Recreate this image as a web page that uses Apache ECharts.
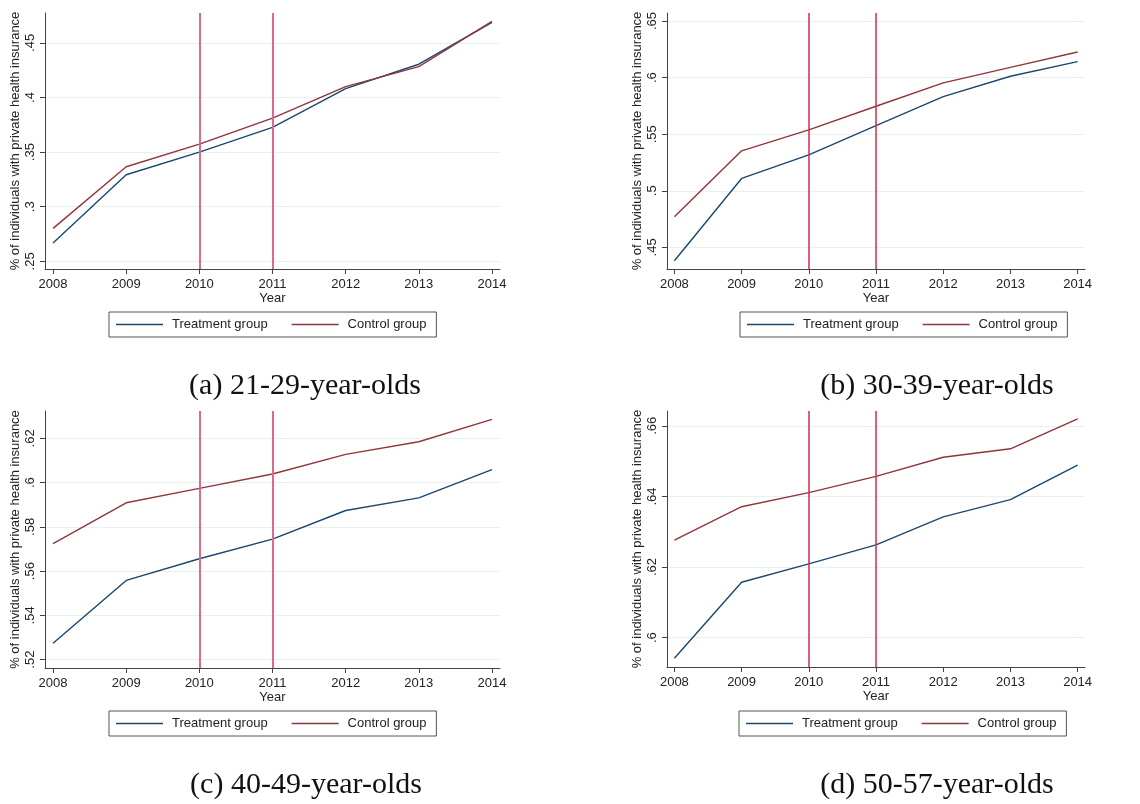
<!DOCTYPE html>
<html><head><meta charset="utf-8">
<script src="https://cdn.jsdelivr.net/npm/echarts@6/dist/echarts.min.js"></script>
<style>html,body{margin:0;padding:0;background:#fff}#c{width:1140px;height:804px}</style>
</head><body><div id="c"></div><script>
// ---- data ----
const years = [2008, 2009, 2010, 2011, 2012, 2013, 2014];
const reformYears = [2010, 2011];
const seriesNames = ['Treatment group', 'Control group'];
const yAxisTitle = '% of individuals with private health insurance';
const xAxisTitle = 'Year';

const treatA = [0.2668, 0.3293, 0.3500, 0.3726, 0.4082, 0.4305, 0.4689];
const controlA = [0.2802, 0.3366, 0.3573, 0.3811, 0.4100, 0.4283, 0.4698];
const ticksA = [0.25, 0.30, 0.35, 0.40, 0.45];
const rangeA = [0.243, 0.4774];

const treatB = [0.4382, 0.5109, 0.5318, 0.5576, 0.5832, 0.6012, 0.6141];
const controlB = [0.4771, 0.5353, 0.5538, 0.5747, 0.5953, 0.6091, 0.6226];
const ticksB = [0.45, 0.50, 0.55, 0.60, 0.65];
const rangeB = [0.4309, 0.6571];

const treatC = [0.5274, 0.5558, 0.5656, 0.5745, 0.5874, 0.5931, 0.6059];
const controlC = [0.5724, 0.5909, 0.5974, 0.6039, 0.6128, 0.6185, 0.6286];
const ticksC = [0.52, 0.54, 0.56, 0.58, 0.60, 0.62];
const rangeC = [0.5162, 0.6324];

const treatD = [0.5942, 0.6157, 0.6209, 0.6263, 0.6342, 0.6391, 0.6489];
const controlD = [0.6276, 0.6371, 0.6411, 0.6457, 0.6511, 0.6535, 0.6620];
const ticksD = [0.60, 0.62, 0.64, 0.66];
const rangeD = [0.5917, 0.6642];

const captions = ['(a) 21-29-year-olds', '(b) 30-39-year-olds', '(c) 40-49-year-olds', '(d) 50-57-year-olds'];

// ---- layout ----
const panels = [
  {t: treatA, c: controlA, ticks: ticksA, range: rangeA, grid: {left: 45, top: 13, width: 455, height: 256}, legend: {left: 109, top: 312}, cap: [305, 386], vcol: '#de6a89', vw: 2},
  {t: treatB, c: controlB, ticks: ticksB, range: rangeB, grid: {left: 667, top: 13, width: 418, height: 256}, legend: {left: 740, top: 312}, cap: [937, 386], vcol: '#d42a4c', vw: 1.5},
  {t: treatC, c: controlC, ticks: ticksC, range: rangeC, grid: {left: 45, top: 411, width: 455, height: 257}, legend: {left: 109, top: 711}, cap: [306, 785], vcol: '#de6a89', vw: 2},
  {t: treatD, c: controlD, ticks: ticksD, range: rangeD, grid: {left: 667, top: 411, width: 418, height: 256}, legend: {left: 739, top: 711}, cap: [937, 785], vcol: '#d42a4c', vw: 1.5}
];

const FONT = "'Liberation Sans', Arial, sans-serif";
const BLUE = '#1a476f', RED = '#90353b', AXIS = '#444';
const fmtY = v => String(+(+v).toFixed(2)).replace(/^0\./, '.');

const option = {animation: false, backgroundColor: '#fff', grid: [], xAxis: [], yAxis: [], series: [], legend: [], graphic: []};
panels.forEach((p, i) => {
  option.grid.push(Object.assign({containLabel: false}, p.grid));
  option.xAxis.push({
    type: 'value', gridIndex: i, min: years[0] - 0.11, max: years[years.length - 1] + 0.11,
    name: xAxisTitle, nameLocation: 'middle', nameGap: 21,
    nameTextStyle: {fontFamily: FONT, fontSize: 13, color: '#222'},
    axisLine: {show: true, onZero: false, lineStyle: {color: AXIS, width: 1}},
    axisTick: {show: true, length: 5, customValues: years, lineStyle: {color: AXIS}},
    axisLabel: {customValues: years, formatter: v => String(v), margin: 9, fontFamily: FONT, fontSize: 13, color: '#222'},
    splitLine: {show: false}
  });
  option.yAxis.push({
    type: 'value', gridIndex: i, min: p.range[0], max: p.range[1],
    name: yAxisTitle, nameLocation: 'middle', nameGap: 23, nameRotate: 90,
    nameTextStyle: {fontFamily: FONT, fontSize: 13, color: '#222'},
    axisLine: {show: true, onZero: false, lineStyle: {color: AXIS, width: 1}},
    axisTick: {show: true, length: 5, customValues: p.ticks, lineStyle: {color: AXIS}},
    axisLabel: {customValues: p.ticks, formatter: fmtY, rotate: 90, margin: 8, fontFamily: FONT, fontSize: 13, color: '#222'},
    splitLine: {show: true, lineStyle: {color: '#e8f0f1', width: 1}}
  });
  option.series.push({
    type: 'line', name: seriesNames[0], xAxisIndex: i, yAxisIndex: i, symbol: 'none',
    data: years.map((y, k) => [y, p.t[k]]), lineStyle: {color: BLUE, width: 1.4}, itemStyle: {color: BLUE}, z: 3,
    markLine: {symbol: 'none', silent: true, label: {show: false}, lineStyle: {color: p.vcol, width: p.vw, type: 'solid'},
      data: reformYears.map(y => ({xAxis: y}))}
  });
  option.series.push({
    type: 'line', name: seriesNames[1], xAxisIndex: i, yAxisIndex: i, symbol: 'none',
    data: years.map((y, k) => [y, p.c[k]]), lineStyle: {color: RED, width: 1.4}, itemStyle: {color: RED}, z: 3
  });
  option.legend.push({
    left: p.legend.left, top: p.legend.top, orient: 'horizontal',
    data: seriesNames, icon: 'rect', itemWidth: 47, itemHeight: 1.5, itemGap: 24,
    padding: [6, 10, 6, 7], borderColor: '#555', borderWidth: 1, backgroundColor: '#fff',
    textStyle: {fontFamily: FONT, fontSize: 13, color: '#222', padding: [0, 0, 0, 4]},
    selectedMode: false
  });
  option.graphic.push({
    type: 'text', x: p.cap[0], y: p.cap[1],
    style: {text: captions[i], fill: '#111', font: "30px 'Liberation Serif', 'DejaVu Serif', serif", textAlign: 'center', textVerticalAlign: 'middle'}
  });
});
const chart = echarts.init(document.getElementById('c'), null, {renderer: 'canvas'});
chart.setOption(option);
</script></body></html>
